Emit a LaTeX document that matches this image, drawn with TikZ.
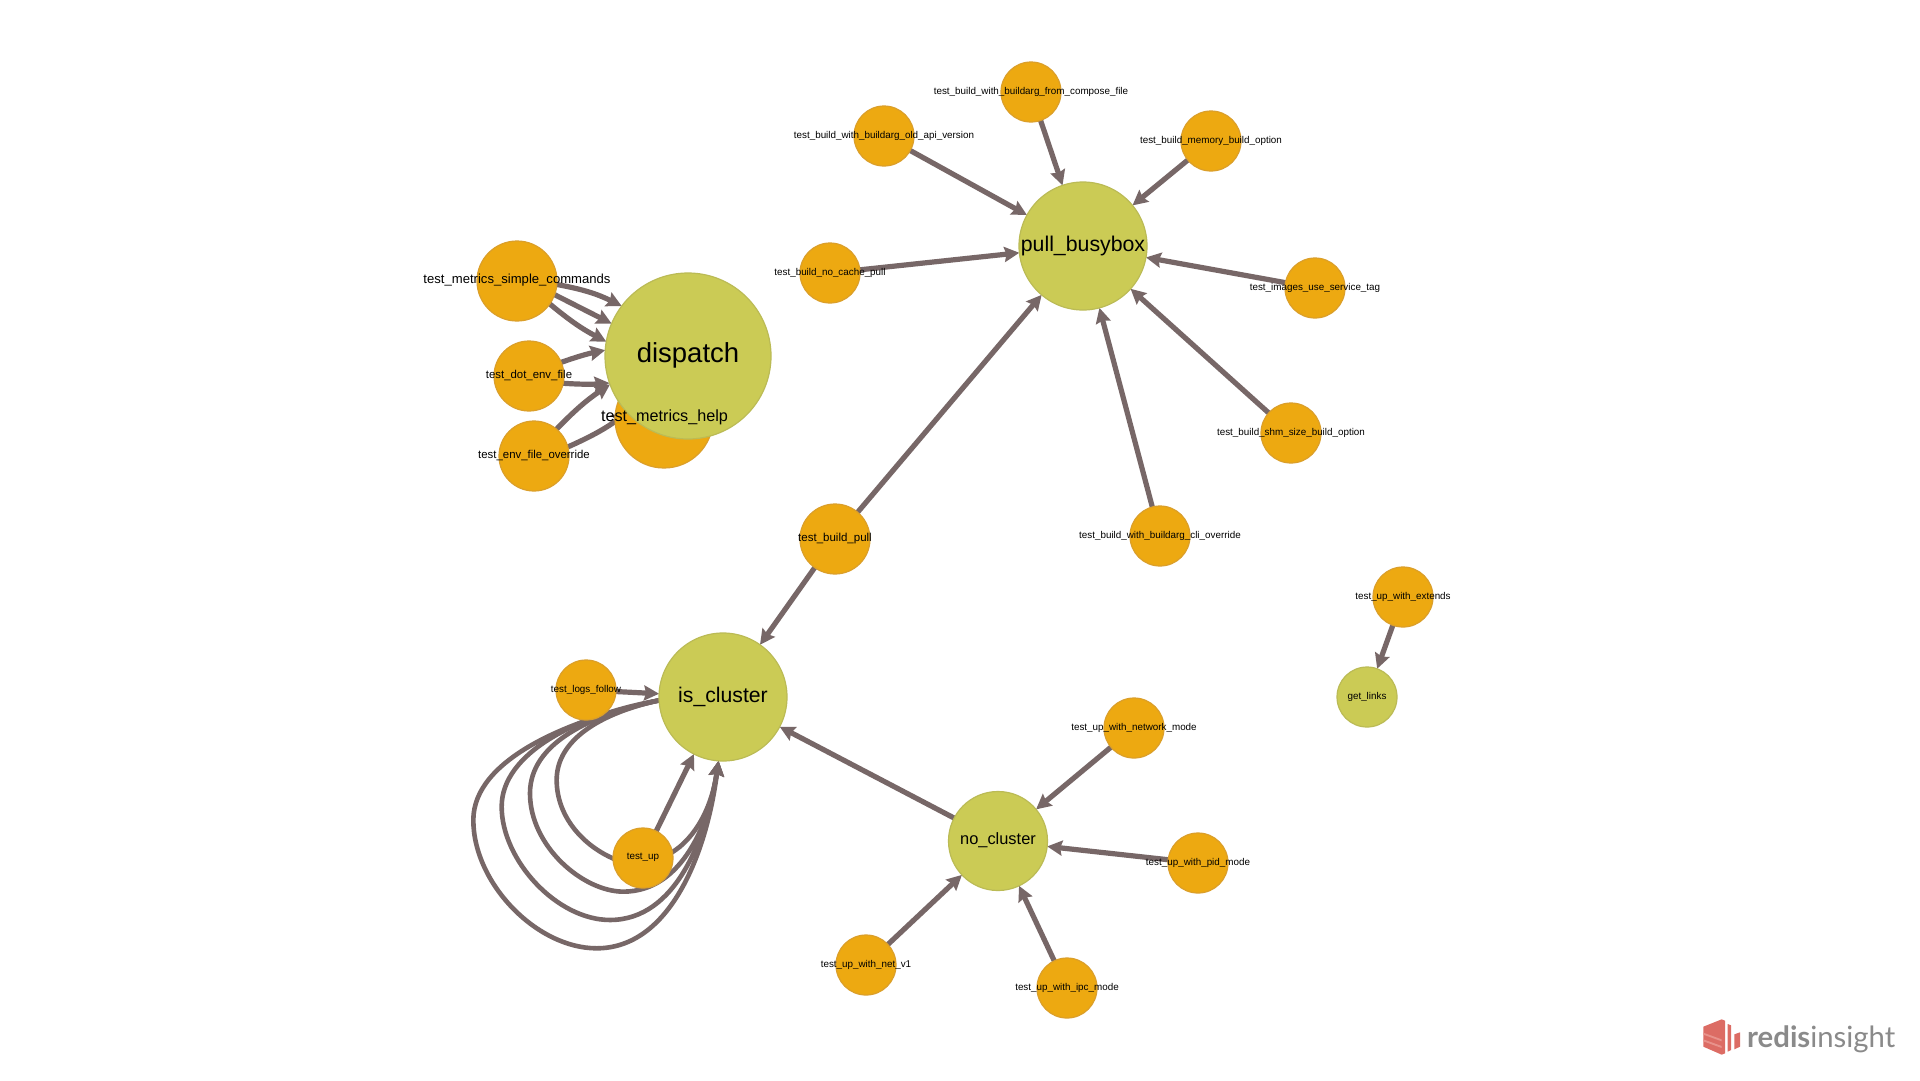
\documentclass[tikz,border=0pt]{standalone}
\usepackage{fontspec}
\setmainfont{Liberation Sans}
\newfontfamily\logofont{Lato}
\usetikzlibrary{arrows.meta,backgrounds}
\definecolor{orn}{HTML}{EDA911}
\definecolor{ornb}{HTML}{DB9F2A}
\definecolor{olv}{HTML}{CBCB55}
\definecolor{olvb}{HTML}{BBBB55}
\definecolor{edgec}{HTML}{776767}
\definecolor{logored}{HTML}{DC6C64}
\definecolor{logolite}{HTML}{E8928B}
\definecolor{logogray}{HTML}{8A8A8A}
\tikzset{
  orange node/.style={circle,fill=orn,draw=ornb,line width=1.2pt,inner sep=0pt,outer sep=0pt,minimum size=#1},
  orange node/.default=60pt,
  olive node/.style={circle,fill=olv,draw=olvb,line width=1.2pt,inner sep=0pt,outer sep=0pt,minimum size=#1},
  lab/.style={font=\fontsize{#1}{#1}\selectfont,text=black,inner sep=0pt,yshift=0.5pt},
  lab/.default=9.85,
  conn/.style={draw=edgec,line width=5.2pt,-{Stealth[length=15pt,width=15pt,inset=2pt]}},
  loopc/.style={draw=edgec,line width=4.6pt,-{Stealth[length=15pt,width=15pt,inset=2pt]}},
}
\begin{document}
\begin{tikzpicture}[x=1pt,y=-1pt]
\useasboundingbox (0,0) rectangle (1920,1080);
% nodes
\node[orange node=98pt] (help) at (664,419) {};
\node[olive node=166pt,label={[lab=27.5]center:dispatch}] (dispatch) at (688,356) {};
\node[lab=16.2] (helplabel) at (664.5,418) {test\_metrics\_help};
\node[orange node=80pt,label={[lab=13.1]center:test\_metrics\_simple\_commands}] (simple) at (517,281) {};
\node[orange node=70pt,label={[lab=11.4]center:test\_dot\_env\_file}] (dot) at (529,376) {};
\node[orange node=70pt,label={[lab=11.4]center:test\_env\_file\_override}] (env) at (534,456) {};
\node[olive node=128pt,label={[lab=21.2]center:is\_cluster}] (cluster) at (723,697) {};
\node[orange node,label={[lab]center:test\_logs\_follow}] (logs) at (586,690) {};
\node[orange node,label={[lab]center:test\_up}] (up) at (643,858) {};
\node[olive node=128pt,label={[lab=21.3]center:pull\_busybox}] (busybox) at (1083,246) {};
\node[orange node,label={[lab]center:test\_build\_with\_buildarg\_from\_compose\_file}] (compose) at (1031,92) {};
\node[orange node,label={[lab]center:test\_build\_with\_buildarg\_old\_api\_version}] (oldapi) at (884,136) {};
\node[orange node,label={[lab]center:test\_build\_memory\_build\_option}] (memory) at (1211,141) {};
\node[orange node,label={[lab]center:test\_build\_no\_cache\_pull}] (nocache) at (830,273) {};
\node[orange node,label={[lab]center:test\_images\_use\_service\_tag}] (images) at (1315,288) {};
\node[orange node,label={[lab]center:test\_build\_shm\_size\_build\_option}] (shm) at (1291,433) {};
\node[orange node,label={[lab]center:test\_build\_with\_buildarg\_cli\_override}] (cli) at (1160,536) {};
\node[orange node=70pt,label={[lab=11.5]center:test\_build\_pull}] (pull) at (835,539) {};
\node[orange node,label={[lab]center:test\_up\_with\_extends}] (extends) at (1403,597) {};
\node[olive node=60pt,label={[lab]center:get\_links}] (links) at (1367,697) {};
\node[orange node,label={[lab]center:test\_up\_with\_network\_mode}] (network) at (1134,728) {};
\node[olive node=99pt,label={[lab=16.4]center:no\_cluster}] (nocluster) at (998,841) {};
\node[orange node,label={[lab]center:test\_up\_with\_pid\_mode}] (pid) at (1198,863) {};
\node[orange node,label={[lab]center:test\_up\_with\_ipc\_mode}] (ipc) at (1067,988) {};
\node[orange node,label={[lab]center:test\_up\_with\_net\_v1}] (netv) at (866,965) {};
% logo
\node[font=\logofont\fontsize{29.3}{29.3}\selectfont,text=logogray,anchor=base west,inner sep=0pt] (logo) at (1747,1047) {\textbf{redis}insight};
\begin{scope}[shift={(1680,1000)},x=0.3333pt,y=-0.3333pt]
\fill[logored] (70,80) -- (125,58) -- (135,62) -- (135,160) -- (125,164) -- (70,140) -- cycle;
\fill[logolite] (70,98) -- (125,118) -- (125,124) -- (70,104) -- cycle;
\fill[logolite] (70,118) -- (125,138) -- (125,144) -- (70,124) -- cycle;
\fill[logored] (143,72) -- (153,76) -- (153,150) -- (143,155) -- cycle;
\fill[logored] (163,103) -- (180,97) -- (180,140) -- (163,148) -- cycle;
\end{scope}
% connectors
\begin{pgfonlayer}{background}
\fill[white] (0,0) rectangle (1920,1080);
\draw[conn] (simple.-5) to[bend left=8] (dispatch.143.5);
\draw[conn] (simple.-20) -- (dispatch.157);
\draw[conn] (simple.-35) to[bend right=6] (dispatch.170);
\draw[conn] (dot.23) to[bend left=4] (dispatch.176.5);
\draw[conn] (dot.-12) to[bend right=4] (dispatch.199);
\draw[conn] (env.50) to[bend left=6] (dispatch.200);
\draw[conn] (env.15) to[bend right=6] (dispatch.223);
\draw[conn] (pull) -- (busybox);
\draw[conn] (pull) -- (cluster);
\draw[conn] (compose) -- (busybox);
\draw[conn] (oldapi) -- (busybox);
\draw[conn] (memory) -- (busybox);
\draw[conn] (nocache) -- (busybox);
\draw[conn] (images) -- (busybox);
\draw[conn] (shm) -- (busybox);
\draw[conn] (cli) -- (busybox);
\draw[conn] (extends) -- (links);
\draw[conn] (network) -- (nocluster);
\draw[conn] (pid) -- (nocluster);
\draw[conn] (ipc) -- (nocluster);
\draw[conn] (netv) -- (nocluster);
\draw[conn] (nocluster) -- (cluster);
\draw[conn] (logs) -- (cluster);
\draw[conn] (up) -- (cluster.243);
\begin{scope}[shift={(450,620)},x=0.3333pt,y=-0.3333pt]
\draw[loopc] (cluster.183) .. controls (450,280) and (320,360) .. (320,480)
  .. controls (320,590) and (400,680) .. (500,720)
  .. controls (570,748) and (640,720) .. (690,680)
  .. controls (760,620) and (790,530) .. (cluster.266);
\draw[loopc] (cluster.183) .. controls (420,285) and (240,370) .. (240,520)
  .. controls (240,680) and (400,815) .. (520,815)
  .. controls (700,815) and (780,600) .. (cluster.266);
\draw[loopc] (cluster.183) .. controls (380,285) and (155,400) .. (155,560)
  .. controls (155,720) and (320,900) .. (480,900)
  .. controls (680,900) and (770,650) .. (cluster.266);
\draw[loopc] (cluster.183) .. controls (350,300) and (70,420) .. (70,600)
  .. controls (70,790) and (260,985) .. (440,985)
  .. controls (660,985) and (770,700) .. (cluster.266);
\end{scope}
\end{pgfonlayer}
\end{tikzpicture}
\end{document}
